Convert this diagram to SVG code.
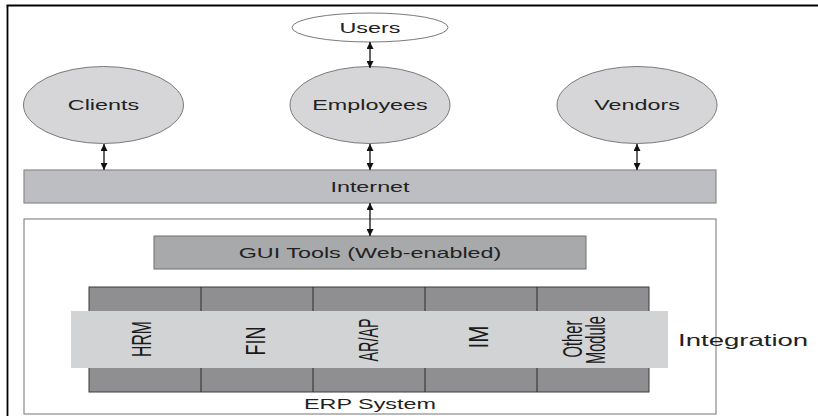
<svg xmlns="http://www.w3.org/2000/svg" width="818" height="416" viewBox="0 0 818 416">
<defs>
<marker id="ah" viewBox="0 0 10 10" refX="10" refY="5" markerWidth="7" markerHeight="7" markerUnits="userSpaceOnUse" orient="auto-start-reverse">
<path d="M0,0 L10,5 L0,10 Z" fill="#111"/>
</marker>
<style>
.t{font-family:"Liberation Sans",Arial,sans-serif;font-size:14px;fill:#222;text-anchor:middle}
.r{font-family:"Liberation Sans",Arial,sans-serif;font-size:17px;fill:#1a1a1a;text-anchor:middle}
.ell{fill:#d6d6d8;stroke:#7a7a7a;stroke-width:1}
.conn line{stroke:#111;stroke-width:1.3;marker-start:url(#ah);marker-end:url(#ah)}
</style>
</defs>
<rect width="818" height="416" fill="#fff"/>
<g id="frame">
<line x1="7.5" y1="5" x2="7.5" y2="416" stroke="#000" stroke-width="1.8"/>
<line x1="6.6" y1="5.5" x2="818" y2="5.5" stroke="#000" stroke-width="1.8"/>
</g>
<g id="users">
<ellipse cx="370" cy="27.5" rx="78" ry="14.5" fill="#fff" stroke="#7a7a7a"/>
<text class="t" transform="translate(370,32.5) scale(1.67,1)">Users</text>
</g>
<g id="clients">
<ellipse class="ell" cx="103.5" cy="105" rx="80" ry="38.5"/>
<text class="t" transform="translate(103.5,110) scale(1.67,1)">Clients</text>
</g>
<g id="employees">
<ellipse class="ell" cx="370" cy="105" rx="80" ry="38.5"/>
<text class="t" transform="translate(370,110) scale(1.67,1)">Employees</text>
</g>
<g id="vendors">
<ellipse class="ell" cx="637" cy="105" rx="80" ry="38.5"/>
<text class="t" transform="translate(637,110) scale(1.67,1)">Vendors</text>
</g>
<g id="internet">
<rect x="24" y="170" width="692" height="33" fill="#bdbec1" stroke="#8a8a8c" stroke-width="1.2"/>
<text class="t" transform="translate(370,191.5) scale(1.67,1)">Internet</text>
</g>
<g id="erp">
<rect x="24" y="219" width="692" height="195" fill="#fff" stroke="#8a8a8a" stroke-width="1.2"/>
<text class="t" transform="translate(370,409) scale(1.67,1)">ERP System</text>
</g>
<g id="gui">
<rect x="154" y="236" width="432" height="33" fill="#a8a9ab" stroke="#6e6e70" stroke-width="1"/>
<text class="t" transform="translate(370,257.5) scale(1.67,1)">GUI Tools (Web-enabled)</text>
</g>
<g id="modules">
<rect x="89" y="287" width="560" height="105" fill="#8f8f91" stroke="#3a3a3a" stroke-width="1"/>
<g stroke="#2a2a2a" stroke-width="1">
<line x1="201" y1="287" x2="201" y2="392"/>
<line x1="313" y1="287" x2="313" y2="392"/>
<line x1="425" y1="287" x2="425" y2="392"/>
<line x1="537" y1="287" x2="537" y2="392"/>
</g>
</g>
<g id="integration">
<rect x="71" y="311" width="597" height="57" fill="#d2d3d5"/>
<text class="t" style="font-size:16.5px;text-anchor:start" transform="translate(678,346) scale(1.67,1)">Integration</text>
</g>
<g id="hrm"><text class="r" textLength="36" lengthAdjust="spacingAndGlyphs" transform="translate(141,339) scale(1.67,1) rotate(-90)" y="6">HRM</text></g>
<g id="fin"><text class="r" textLength="29" lengthAdjust="spacingAndGlyphs" transform="translate(255,341) scale(1.67,1) rotate(-90)" y="6">FIN</text></g>
<g id="arap"><text class="r" textLength="43" lengthAdjust="spacingAndGlyphs" transform="translate(368,340) scale(1.67,1) rotate(-90)" y="6">AR/AP</text></g>
<g id="im"><text class="r" textLength="23" lengthAdjust="spacingAndGlyphs" transform="translate(478,337) scale(1.67,1) rotate(-90)" y="6">IM</text></g>
<g id="other">
<text class="r" textLength="37" lengthAdjust="spacingAndGlyphs" transform="translate(572,339) scale(1.67,1) rotate(-90)" y="6">Other</text>
<text class="r" textLength="48" lengthAdjust="spacingAndGlyphs" transform="translate(595,340) scale(1.67,1) rotate(-90)" y="6">Module</text>
</g>
<g class="conn" id="connectors">
<line x1="370" y1="42" x2="370" y2="68"/>
<line x1="104" y1="144" x2="104" y2="170"/>
<line x1="370" y1="144" x2="370" y2="170"/>
<line x1="637" y1="144" x2="637" y2="170"/>
<line x1="370" y1="203" x2="370" y2="236"/>
</g>
</svg>
